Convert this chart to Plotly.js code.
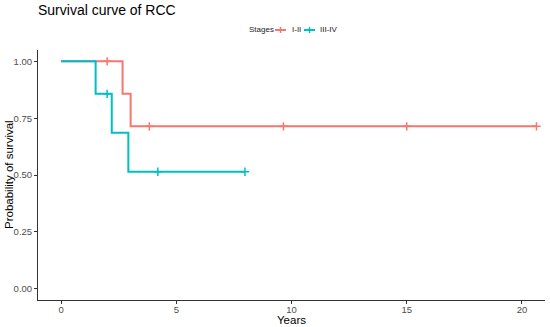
<!DOCTYPE html>
<html>
<head>
<meta charset="utf-8">
<script src="https://cdn.plot.ly/plotly-3.0.1.min.js"></script>
<style>html,body{margin:0;padding:0;background:#fff;}#chart{width:550px;height:327px;}</style>
</head>
<body>
<div id="chart"></div>
<script>
// Stage I-II
const stageI_times = [0, 2.67, 3.02, 20.63];
const stageI_surv = [1.0, 0.857, 0.714, 0.714];
const stageI_censor = [2.0, 3.83, 9.65, 15.0, 20.63];
// Stage III-IV
const stageIII_times = [0, 1.5, 2.2, 2.92, 7.98];
const stageIII_surv = [1.0, 0.857, 0.686, 0.514, 0.514];
const stageIII_censor = [2.0, 4.2, 7.98];

const legendTitle = 'Stages';
const groupNames = ['I-II', 'III-IV'];
const groupColors = ['#F8766D', '#00BFC4'];
const xTicks = [0, 5, 10, 15, 20];
const yTicks = [0, 0.25, 0.5, 0.75, 1.0];

function survAt(times, surv, t) {
  let s = surv[0];
  for (let i = 0; i < times.length; i++) { if (times[i] <= t) s = surv[i]; }
  return s;
}

const groups = [
  [stageI_times, stageI_surv, stageI_censor],
  [stageIII_times, stageIII_surv, stageIII_censor]
];
const traces = [];
groups.forEach((g, i) => {
  traces.push({
    x: g[0], y: g[1], type: 'scatter', mode: 'lines', name: groupNames[i],
    line: {shape: 'hv', color: groupColors[i], width: 2}, showlegend: false
  });
  traces.push({
    x: g[2], y: g[2].map(t => survAt(g[0], g[1], t)), type: 'scatter', mode: 'markers',
    name: groupNames[i], showlegend: false,
    marker: {symbol: 'cross-thin', size: 6, line: {color: groupColors[i], width: 1.5}, color: groupColors[i]}
  });
});

// plot area geometry (px) for converting the legend / titles into paper coordinates
const L = 38, R = 5, T = 50, B = 27, W = 550, H = 327;
const pw = W - L - R, ph = H - T - B;
const px = v => (v - L) / pw;
const py = v => (H - B - v) / ph;

const legY = py(30);
const annotations = [
  {text: legendTitle, x: px(247), y: legY, xref: 'paper', yref: 'paper', xanchor: 'left', yanchor: 'middle', showarrow: false, font: {size: 8, color: '#222'}},
  {text: groupNames[0], x: px(290), y: legY, xref: 'paper', yref: 'paper', xanchor: 'left', yanchor: 'middle', showarrow: false, font: {size: 8, color: '#222'}},
  {text: groupNames[1], x: px(318), y: legY, xref: 'paper', yref: 'paper', xanchor: 'left', yanchor: 'middle', showarrow: false, font: {size: 8, color: '#222'}},
  {text: 'Years', x: px(291), y: py(320), xref: 'paper', yref: 'paper', xanchor: 'center', yanchor: 'middle', showarrow: false, font: {size: 11.5, color: '#000'}},
  {text: 'Probability of survival', x: px(9), y: 0.5, xref: 'paper', yref: 'paper', xanchor: 'center', yanchor: 'middle', textangle: -90, showarrow: false, font: {size: 11.5, color: '#000'}}
];
const legSeg = [[275, 286], [304, 315]];
const shapes = [];
legSeg.forEach((s, i) => {
  shapes.push({type: 'line', xref: 'paper', yref: 'paper', x0: px(s[0]), x1: px(s[1]), y0: legY, y1: legY, line: {color: groupColors[i], width: 2}});
  const c = (s[0] + s[1]) / 2;
  shapes.push({type: 'line', xref: 'paper', yref: 'paper', x0: px(c), x1: px(c), y0: py(27), y1: py(33), line: {color: groupColors[i], width: 1.5}});
});

const layout = {
  width: W, height: H,
  margin: {l: L, r: R, t: T, b: B},
  paper_bgcolor: '#fff', plot_bgcolor: '#fff',
  font: {family: 'Liberation Sans, Arial, sans-serif', color: '#000'},
  title: {text: 'Survival curve of RCC', font: {size: 14, color: '#000'}, xref: 'container', x: 38/550, xanchor: 'left', yref: 'container', y: 1 - 10/327, yanchor: 'middle'},
  showlegend: false,
  annotations: annotations,
  shapes: shapes,
  xaxis: {range: [-1.0, 21.0], tickvals: xTicks, ticktext: xTicks.map(String), showgrid: false, zeroline: false,
    showline: true, linecolor: '#333', linewidth: 1, ticks: 'outside', ticklen: 3, tickcolor: '#333',
    ticklabelstandoff: -2, tickfont: {size: 9.5, color: '#4d4d4d'}},
  yaxis: {range: [-0.05, 1.05], tickvals: yTicks, ticktext: yTicks.map(v => v.toFixed(2)), showgrid: false, zeroline: false,
    showline: true, linecolor: '#333', linewidth: 1, ticks: 'outside', ticklen: 3, tickcolor: '#333',
    ticklabelstandoff: 0, tickfont: {size: 9.5, color: '#4d4d4d'}}
};
Plotly.newPlot('chart', traces, layout, {displayModeBar: false});
</script>
</body>
</html>
